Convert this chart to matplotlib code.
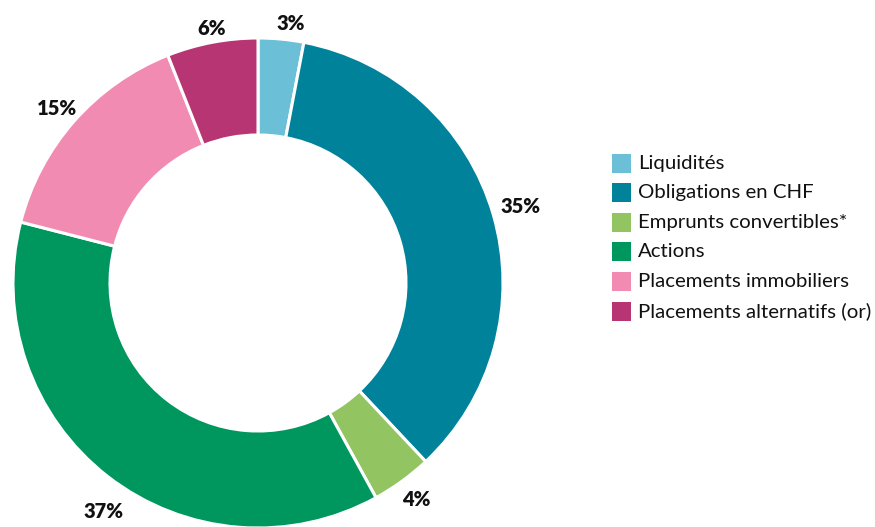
import matplotlib
matplotlib.use("Agg")
import matplotlib.pyplot as plt
from matplotlib.patches import Rectangle
import numpy as np

categories = ["Liquidités", "Obligations en CHF", "Emprunts convertibles*",
              "Actions", "Placements immobiliers", "Placements alternatifs (or)"]
shares = [3, 35, 4, 37, 15, 6]
pct_labels = ["3%", "35%", "4%", "37%", "15%", "6%"]
colors = ["#6bbfd6", "#00829b", "#93c462", "#00975f", "#f28bb2", "#b83573"]

W, H = 875, 527
fig = plt.figure(figsize=(W / 100, H / 100), dpi=100)
ax = fig.add_axes([0, 0, 1, 1])
ax.axis("off")

# pie geometry in pixel units
cx, cy = 258, H - 283
r_out = 245
ring = 97

wedges, _ = ax.pie(shares, colors=colors, startangle=90, counterclock=False,
                   radius=r_out, center=(cx, cy),
                   wedgeprops=dict(width=ring, edgecolor="white", linewidth=2.2))
ax.set_xlim(0, W)
ax.set_ylim(0, H)
ax.set_aspect("equal")

# percentage labels outside the ring (small hand nudges, pixels, y down)
nudge = [(7, 8), (5, -2), (1, -1), (10, 17), (0, 3), (4, 9)]
for w, lab, (nx, ny) in zip(wedges, pct_labels, nudge):
    ang = np.deg2rad((w.theta1 + w.theta2) / 2)
    d = r_out * 1.095
    ax.text(cx + d * np.cos(ang) + nx, cy + d * np.sin(ang) - ny, lab,
            ha="center", va="center", fontsize=14.5, fontweight="heavy",
            family="Lato", color="#111111")

# legend
lx, ly0, step, sq = 612, H - 163, 29.6, 19
for i, (lab, col) in enumerate(zip(categories, colors)):
    y = ly0 - i * step
    ax.add_patch(Rectangle((lx, y - sq / 2), sq, sq, facecolor=col, edgecolor="none"))
    ax.text(lx + 26, y, lab, ha="left", va="center", fontsize=14.7,
            family="Lato", color="#111111")

fig.savefig("out.png", dpi=100)
